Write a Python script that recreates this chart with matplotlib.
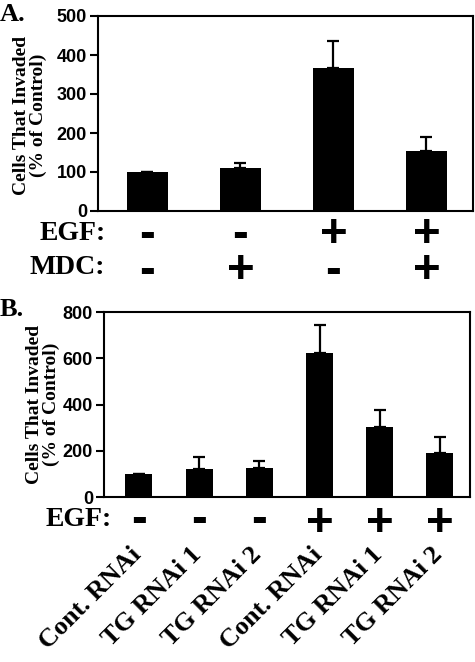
import matplotlib
matplotlib.use('Agg')
import matplotlib.pyplot as plt

# panel A data
a_values = [100, 110, 367, 154]
a_errors = [0, 12, 69, 36]
a_egf = ['-', '-', '+', '+']
a_mdc = ['-', '+', '-', '+']

# panel B data
b_labels = ['Cont. RNAi', 'TG RNAi 1', 'TG RNAi 2',
            'Cont. RNAi', 'TG RNAi 1', 'TG RNAi 2']
b_values = [100, 121, 126, 623, 303, 190]
b_errors = [0, 52, 30, 122, 74, 70]
b_egf = ['-', '-', '-', '+', '+', '+']

SERIF = ['Liberation Serif', 'DejaVu Serif']
NARROW = ['Liberation Sans Narrow', 'Liberation Sans', 'DejaVu Sans']
SANS = ['Liberation Sans', 'DejaVu Sans']

W, H = 475, 662
fig = plt.figure(figsize=(W / 100, H / 100), dpi=100)


def px_axes(left, top, right, bottom):
    return fig.add_axes([left / W, 1 - bottom / H, (right - left) / W, (bottom - top) / H])


def style_axes(ax, ymax, step):
    for s in ax.spines.values():
        s.set_linewidth(1.5)
    ax.set_ylim(0, ymax)
    ax.set_yticks(range(0, ymax + 1, step))
    ax.set_xticks([])
    ax.tick_params(axis='y', direction='out', length=6, width=1.5, pad=2)
    for lab in ax.get_yticklabels():
        lab.set_family(NARROW)
        lab.set_fontweight('bold')
        lab.set_fontsize(13)


def serif_label(ax, s, x, y):
    ax.annotate(s, xy=(x, y), xycoords='axes fraction', ha='right',
                va='center', fontsize=20, fontweight='bold', family=SERIF,
                annotation_clip=False)


# ---- panel A
axA = px_axes(98, 16, 473, 211)
xa = range(len(a_values))
axA.bar(xa, a_values, width=0.44, color='black')
axA.errorbar(xa, a_values, yerr=[[0] * len(a_errors), a_errors], fmt='none',
             ecolor='black', elinewidth=1.6, capsize=4.5, capthick=1.6)
axA.set_xlim(-0.53, 3.5)
style_axes(axA, 500, 100)
axA.set_ylabel('Cells That Invaded\n(% of Control)', family=SERIF,
               fontweight='bold', fontsize=14, linespacing=1.0)
axA.yaxis.set_label_coords(-0.136, 0.49)
serif_label(axA, 'EGF:', 0.02, -0.113)
serif_label(axA, 'MDC:', 0.02, -0.29)
# EGF / MDC signs stacked in one text per column
for x, e, m in zip(xa, a_egf, a_mdc):
    axA.annotate(e + '\n' + m, xy=(x, -0.011), xycoords=('data', 'axes fraction'),
                 ha='center', va='top', fontsize=34, linespacing=0.76,
                 fontweight='bold', family=SANS, annotation_clip=False)

# ---- panel B
axB = px_axes(104, 312, 470, 497)
xb = range(len(b_values))
axB.bar(xb, b_values, width=0.45, color='black')
axB.errorbar(xb, b_values, yerr=[[0] * len(b_errors), b_errors], fmt='none',
             ecolor='black', elinewidth=1.6, capsize=4.5, capthick=1.6)
axB.set_xlim(-0.58, 5.5)
style_axes(axB, 800, 200)
axB.set_ylabel('Cells That Invaded\n(% of Control)', family=SERIF,
               fontweight='bold', fontsize=14, linespacing=1.0)
axB.yaxis.set_label_coords(-0.12, 0.5)
serif_label(axB, 'EGF:', 0.022, -0.124)
for x, s in zip(xb, b_egf):
    axB.annotate(s, xy=(x, -0.2135 if s == '+' else -0.189),
                 xycoords=('data', 'axes fraction'),
                 ha='center', va='baseline', fontsize=34,
                 fontweight='bold', family=SANS, annotation_clip=False)
for x, lab in zip(xb, b_labels):
    axB.annotate(lab, xy=(x, -0.25), xycoords=('data', 'axes fraction'),
                 xytext=(5, 0), textcoords='offset points',
                 rotation=45, ha='right', va='top', fontsize=19,
                 fontweight='bold', family=SERIF, annotation_clip=False)

fig.text(0.0, 1 - 3 / H, 'A.', ha='left', va='top', fontsize=19,
         fontweight='bold', family=SERIF)
fig.text(0.0, 1 - 298 / H, 'B.', ha='left', va='top', fontsize=19,
         fontweight='bold', family=SERIF)

fig.savefig('out.png', dpi=100, facecolor='white')
